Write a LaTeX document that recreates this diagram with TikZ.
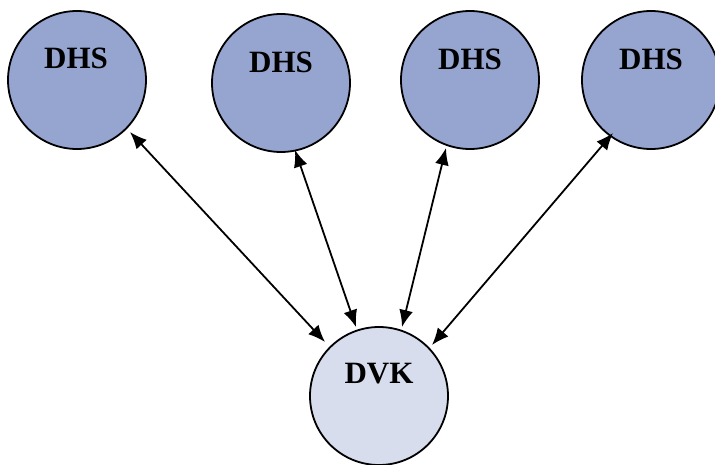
\documentclass[tikz,border=0pt]{standalone}
\usepackage{fontspec}
\setmainfont{Liberation Serif}
\usetikzlibrary{arrows.meta}
\definecolor{dhsfill}{RGB}{149,165,208}
\definecolor{dvkfill}{RGB}{216,221,237}
\begin{document}
\begin{tikzpicture}[x=1pt,y=-1pt,
  disc/.style={circle,draw=black,line width=1.8pt,minimum size=138pt,inner sep=0pt},
  hs/.style={disc,fill=dhsfill},
  vk/.style={disc,fill=dvkfill},
  lbl/.style={inner sep=0pt,font=\fontsize{31}{31}\selectfont\bfseries},
  link/.style={line width=1.8pt,{Latex[length=17pt,width=14pt]}-{Latex[length=17pt,width=14pt]}}]
\useasboundingbox (0,0) rectangle (715,465);
\node[hs] (d1) at (77,80) {};
\node[hs] (d2) at (281,83) {};
\node[hs] (d3) at (470,80) {};
\node[hs] (d4) at (651,80) {};
\node[vk] (k) at (379,396) {};
\node[lbl] (t1) at (76,58) {DHS};
\node[lbl] (t2) at (281,62) {DHS};
\node[lbl] (t3) at (470,59) {DHS};
\node[lbl] (t4) at (651,59) {DHS};
\node[lbl] (tk) at (379,374) {DVK};
\coordinate (a1) at (130,132);
\coordinate (b1) at (325,342);
\coordinate (a2) at (295,150);
\coordinate (b2) at (356,327);
\coordinate (a3) at (446,148);
\coordinate (b3) at (402,327);
\coordinate (a4) at (613,133);
\coordinate (b4) at (432,345);
\draw[link] (a1) -- (b1);
\draw[link] (a2) -- (b2);
\draw[link] (a3) -- (b3);
\draw[link] (a4) -- (b4);
\end{tikzpicture}
\end{document}
